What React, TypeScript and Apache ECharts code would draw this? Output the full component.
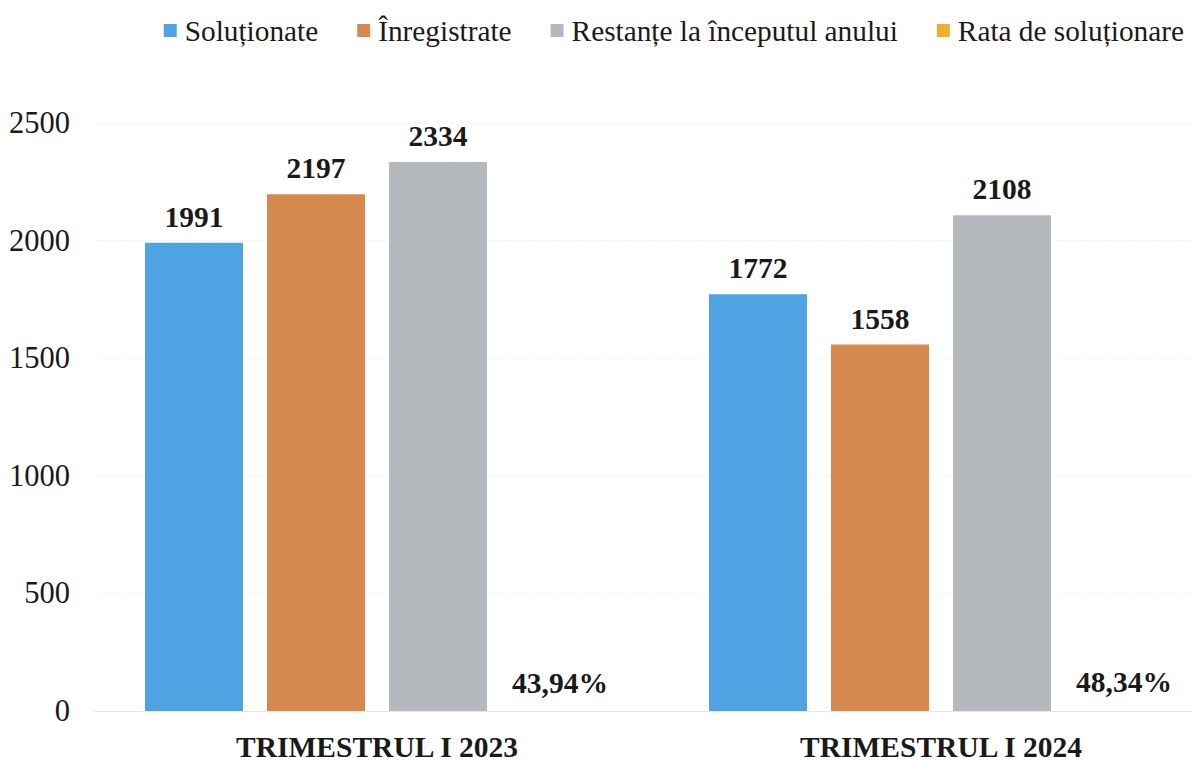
import React, { useEffect, useRef } from "react";
import * as echarts from "echarts";

const categories = ["TRIMESTRUL I 2023", "TRIMESTRUL I 2024"];
const solutionate = [1991, 1772];
const inregistrate = [2197, 1558];
const restante = [2334, 2108];
const rata = [43.94, 48.34];
const yTicks = { min: 0, max: 2500, interval: 500 };

const FONT = "'Liberation Serif', 'Times New Roman', serif";
const colors = {
  blue: "#4FA3E3",
  orange: "#D6894E",
  gray: "#B5B9BE",
  yellow: "#EDB035",
};

const CHART_W = 1240;

export default function App() {
  const ref = useRef<HTMLDivElement>(null);
  useEffect(() => {
    if (!ref.current) return;
    const chart = echarts.init(ref.current, null, { renderer: "svg" });
    const valueLabel = {
      show: true,
      position: "top",
      distance: 11,
      color: "#1a1a1a",
      fontFamily: FONT,
      fontWeight: "bold",
      fontSize: 29.5,
    };
    chart.setOption({
      animation: false,
      backgroundColor: "#ffffff",
      legend: {
        right: CHART_W - 1189,
        top: 11,
        itemWidth: 13,
        itemHeight: 13,
        itemGap: 39,
        icon: "rect",
        textStyle: { fontFamily: FONT, fontSize: 29.3, color: "#1a1a1a", padding: [0, 0, 0, 3] },
        data: [
          { name: "Soluționate", itemStyle: { color: colors.blue } },
          { name: "Înregistrate", itemStyle: { color: colors.orange } },
          { name: "Restanțe la începutul anului", itemStyle: { color: colors.gray } },
          { name: "Rata de soluționare", itemStyle: { color: colors.yellow } },
        ],
      },
      grid: { left: 95, top: 123, width: 1128, height: 592 },
      xAxis: {
        type: "category",
        data: categories,
        axisLine: { show: true, lineStyle: { color: "#e6e6e6" } },
        axisTick: { show: false },
        axisLabel: {
          margin: 21,
          fontFamily: FONT,
          fontWeight: "bold",
          fontSize: 29.5,
          color: "#1a1a1a",
        },
      },
      yAxis: {
        type: "value",
        min: yTicks.min,
        max: yTicks.max,
        interval: yTicks.interval,
        axisLine: { show: false },
        axisTick: { show: false },
        splitLine: { show: true, lineStyle: { color: "#f4f4f4", type: "dashed" } },
        axisLabel: {
          margin: 25,
          fontFamily: FONT,
          fontSize: 30.5,
          color: "#1a1a1a",
          formatter: (v: number) => String(v),
        },
      },
      series: [
        {
          name: "Soluționate",
          type: "bar",
          data: solutionate,
          barWidth: 98,
          barGap: "24.5%",
          itemStyle: { color: colors.blue },
          label: valueLabel,
        },
        {
          name: "Înregistrate",
          type: "bar",
          data: inregistrate,
          barWidth: 98,
          barGap: "24.5%",
          itemStyle: { color: colors.orange },
          label: valueLabel,
        },
        {
          name: "Restanțe la începutul anului",
          type: "bar",
          data: restante,
          barWidth: 98,
          barGap: "24.5%",
          itemStyle: { color: colors.gray },
          label: valueLabel,
        },
        {
          name: "Rata de soluționare",
          type: "bar",
          data: rata,
          barWidth: 98,
          barGap: "24.5%",
          itemStyle: { color: "rgba(0,0,0,0)" },
          label: {
            ...valueLabel,
            distance: 3,
            formatter: (p: any) => p.value.toFixed(2).replace(".", ",") + "%",
          },
        },
      ],
    });
    return () => chart.dispose();
  }, []);
  return (
    <div
      ref={ref}
      style={{ position: "fixed", left: 0, top: 0, width: CHART_W, height: 762, background: "#fff" }}
    />
  );
}
